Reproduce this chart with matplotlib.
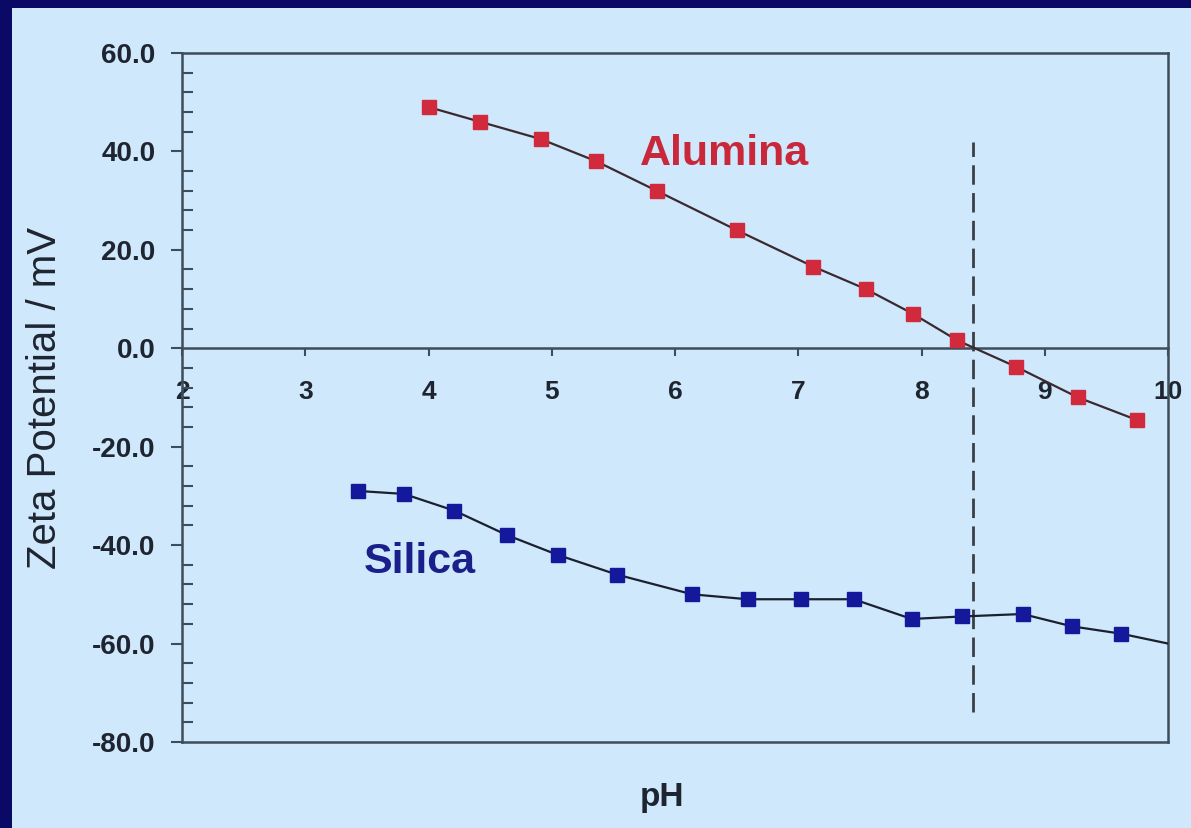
import matplotlib.pyplot as plt
from matplotlib.patches import Rectangle
from matplotlib.ticker import MultipleLocator, FormatStrFormatter

# alumina zeta potential vs pH
alumina_ph = [4.0, 4.42, 4.91, 5.36, 5.85, 6.50, 7.12, 7.55, 7.93, 8.29, 8.77, 9.27, 9.75]
alumina_zeta = [49.0, 46.0, 42.5, 38.0, 32.0, 24.0, 16.6, 12.0, 7.0, 1.6, -3.8, -10.0, -14.6]

# silica zeta potential vs pH (last point is line end, no marker)
silica_ph = [3.43, 3.80, 4.21, 4.64, 5.05, 5.53, 6.14, 6.59, 7.02, 7.45, 7.92, 8.33, 8.82, 9.22, 9.62, 10.0]
silica_zeta = [-29.0, -29.6, -33.0, -38.0, -42.0, -46.0, -50.0, -51.0, -51.0, -51.0, -55.0, -54.5, -54.0, -56.5, -58.0, -60.0]

ph_iep = 8.42
iep_range = [-74, 42]

bg = '#cfe8fb'
navy = '#0a0a66'
txt = '#1e2430'

plt.rcParams['font.family'] = ['Liberation Sans', 'DejaVu Sans']

fig = plt.figure(figsize=(11.91, 8.281), dpi=100, facecolor=navy)
fig.patches.append(Rectangle((12 / 1191, 0), 1, 1 - 8 / 828, transform=fig.transFigure,
                             facecolor=bg, edgecolor='none', zorder=-10))
ax = fig.add_axes([182 / 1191, 1 - 742 / 828, 986 / 1191, 689 / 828])
ax.set_facecolor(bg)

ax.plot(alumina_ph, alumina_zeta, color='#3a2a30', lw=1.6, marker='s', markersize=10.5,
        markerfacecolor='#d02a3c', markeredgecolor='#d02a3c', zorder=3)
ax.plot(silica_ph, silica_zeta, color='#1a2030', lw=1.6, marker='s', markersize=10.5,
        markerfacecolor='#14189a', markeredgecolor='#14189a',
        markevery=list(range(len(silica_ph) - 1)), zorder=3)
ax.vlines(ph_iep, iep_range[0], iep_range[1], colors='#3a3f45', linestyles=(0, (7, 3)), lw=2)

ax.text(6.40, 39.5, 'Alumina', color='#c8283a', fontsize=31, fontweight='bold', ha='center', va='center')
ax.text(3.93, -43.5, 'Silica', color='#1a1f8a', fontsize=31, fontweight='bold', ha='center', va='center')

ax.set_xlim(2, 10)
ax.set_ylim(-80, 60)
ax.xaxis.set_major_locator(MultipleLocator(1))
ax.yaxis.set_major_locator(MultipleLocator(20))
ax.yaxis.set_minor_locator(MultipleLocator(4))
ax.yaxis.set_major_formatter(FormatStrFormatter('%.1f'))

spine_c = '#3d4d5a'
for s in ['top', 'right', 'left', 'bottom']:
    ax.spines[s].set_color(spine_c)
    ax.spines[s].set_linewidth(1.8)
ax.spines['bottom'].set_position(('data', 0))
ax.plot([0, 1], [0, 0], transform=ax.transAxes, color=spine_c, lw=1.8, clip_on=False)

ax.tick_params(axis='y', which='major', direction='out', length=8, width=1.5, color=spine_c,
               labelsize=20, labelcolor=txt, pad=11)
ax.tick_params(axis='y', which='minor', direction='in', length=8, width=1.5, color=spine_c)
ax.tick_params(axis='x', which='major', direction='out', length=6, width=1.5, color=spine_c,
               labelsize=19, labelcolor=txt, pad=17)
for lab in ax.get_xticklabels() + ax.get_yticklabels():
    lab.set_fontweight('bold')

ax.set_xlabel('pH', fontsize=24, fontweight='bold', color=txt)
ax.xaxis.set_label_coords(0.487, -0.058)
ax.set_ylabel('Zeta Potential / mV', fontsize=29, color=txt)
ax.yaxis.set_label_coords(-0.12, 0.5)

fig.savefig('out.png', dpi=100, facecolor=navy)
